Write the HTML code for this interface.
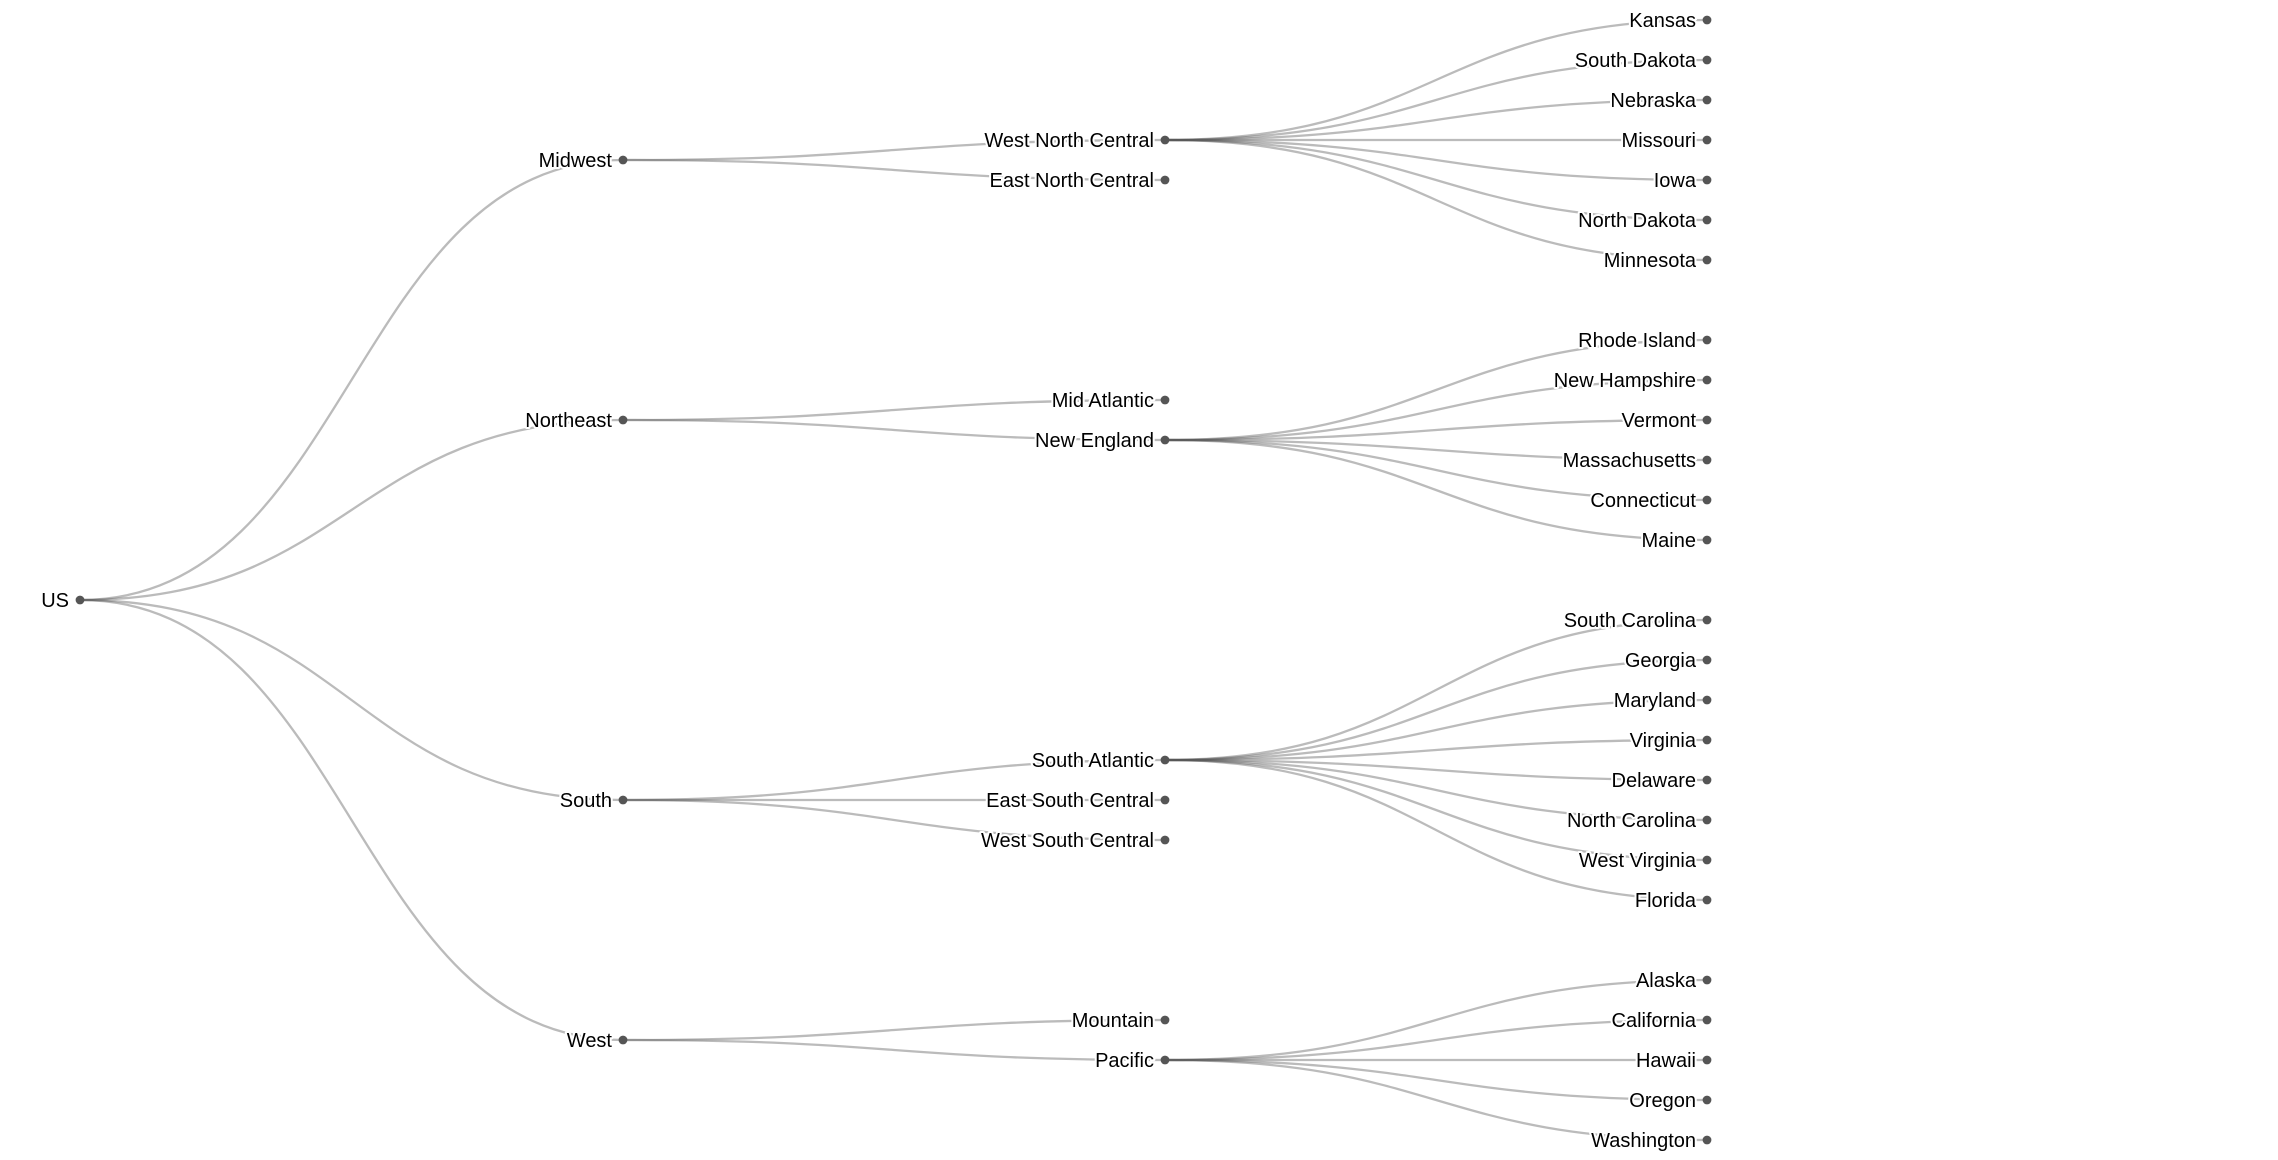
<!DOCTYPE html>
<html><head><meta charset="utf-8"><style>
html,body{margin:0;padding:0;background:#fff;}
svg{display:block}
text{font-family:"Liberation Sans",Arial,sans-serif;font-size:20px;fill:#000;stroke:#fff;stroke-width:4px;paint-order:stroke;stroke-linejoin:round;text-anchor:end}
</style></head><body>
<svg width="2278" height="1160" viewBox="0 0 2278 1160" xmlns="http://www.w3.org/2000/svg">
<g fill="none" stroke="#555" stroke-opacity="0.4" stroke-width="2.3">
<path d="M80,600C351.5,600 351.5,160 623,160"/>
<path d="M80,600C351.5,600 351.5,420 623,420"/>
<path d="M80,600C351.5,600 351.5,800 623,800"/>
<path d="M80,600C351.5,600 351.5,1040 623,1040"/>
<path d="M623,160C894,160 894,140 1165,140"/>
<path d="M623,160C894,160 894,180 1165,180"/>
<path d="M623,420C894,420 894,400 1165,400"/>
<path d="M623,420C894,420 894,440 1165,440"/>
<path d="M623,800C894,800 894,760 1165,760"/>
<path d="M623,800C894,800 894,800 1165,800"/>
<path d="M623,800C894,800 894,840 1165,840"/>
<path d="M623,1040C894,1040 894,1020 1165,1020"/>
<path d="M623,1040C894,1040 894,1060 1165,1060"/>
<path d="M1165,140C1436,140 1436,20 1707,20"/>
<path d="M1165,140C1436,140 1436,60 1707,60"/>
<path d="M1165,140C1436,140 1436,100 1707,100"/>
<path d="M1165,140C1436,140 1436,140 1707,140"/>
<path d="M1165,140C1436,140 1436,180 1707,180"/>
<path d="M1165,140C1436,140 1436,220 1707,220"/>
<path d="M1165,140C1436,140 1436,260 1707,260"/>
<path d="M1165,440C1436,440 1436,340 1707,340"/>
<path d="M1165,440C1436,440 1436,380 1707,380"/>
<path d="M1165,440C1436,440 1436,420 1707,420"/>
<path d="M1165,440C1436,440 1436,460 1707,460"/>
<path d="M1165,440C1436,440 1436,500 1707,500"/>
<path d="M1165,440C1436,440 1436,540 1707,540"/>
<path d="M1165,760C1436,760 1436,620 1707,620"/>
<path d="M1165,760C1436,760 1436,660 1707,660"/>
<path d="M1165,760C1436,760 1436,700 1707,700"/>
<path d="M1165,760C1436,760 1436,740 1707,740"/>
<path d="M1165,760C1436,760 1436,780 1707,780"/>
<path d="M1165,760C1436,760 1436,820 1707,820"/>
<path d="M1165,760C1436,760 1436,860 1707,860"/>
<path d="M1165,760C1436,760 1436,900 1707,900"/>
<path d="M1165,1060C1436,1060 1436,980 1707,980"/>
<path d="M1165,1060C1436,1060 1436,1020 1707,1020"/>
<path d="M1165,1060C1436,1060 1436,1060 1707,1060"/>
<path d="M1165,1060C1436,1060 1436,1100 1707,1100"/>
<path d="M1165,1060C1436,1060 1436,1140 1707,1140"/>
</g>
<g fill="#555">
<circle cx="80" cy="600" r="4.4"/>
<circle cx="623" cy="160" r="4.4"/><circle cx="623" cy="420" r="4.4"/><circle cx="623" cy="800" r="4.4"/><circle cx="623" cy="1040" r="4.4"/>
<circle cx="1165" cy="140" r="4.4"/><circle cx="1165" cy="180" r="4.4"/><circle cx="1165" cy="400" r="4.4"/><circle cx="1165" cy="440" r="4.4"/><circle cx="1165" cy="760" r="4.4"/><circle cx="1165" cy="800" r="4.4"/><circle cx="1165" cy="840" r="4.4"/><circle cx="1165" cy="1020" r="4.4"/><circle cx="1165" cy="1060" r="4.4"/>
<circle cx="1707" cy="20" r="4.4"/><circle cx="1707" cy="60" r="4.4"/><circle cx="1707" cy="100" r="4.4"/><circle cx="1707" cy="140" r="4.4"/><circle cx="1707" cy="180" r="4.4"/><circle cx="1707" cy="220" r="4.4"/><circle cx="1707" cy="260" r="4.4"/>
<circle cx="1707" cy="340" r="4.4"/><circle cx="1707" cy="380" r="4.4"/><circle cx="1707" cy="420" r="4.4"/><circle cx="1707" cy="460" r="4.4"/><circle cx="1707" cy="500" r="4.4"/><circle cx="1707" cy="540" r="4.4"/>
<circle cx="1707" cy="620" r="4.4"/><circle cx="1707" cy="660" r="4.4"/><circle cx="1707" cy="700" r="4.4"/><circle cx="1707" cy="740" r="4.4"/><circle cx="1707" cy="780" r="4.4"/><circle cx="1707" cy="820" r="4.4"/><circle cx="1707" cy="860" r="4.4"/><circle cx="1707" cy="900" r="4.4"/>
<circle cx="1707" cy="980" r="4.4"/><circle cx="1707" cy="1020" r="4.4"/><circle cx="1707" cy="1060" r="4.4"/><circle cx="1707" cy="1100" r="4.4"/><circle cx="1707" cy="1140" r="4.4"/>
</g>
<g>
<text x="69" y="607">US</text>
<text x="612" y="167">Midwest</text>
<text x="612" y="427">Northeast</text>
<text x="612" y="807">South</text>
<text x="612" y="1047">West</text>
<text x="1154" y="147">West North Central</text>
<text x="1154" y="187">East North Central</text>
<text x="1154" y="407">Mid Atlantic</text>
<text x="1154" y="447">New England</text>
<text x="1154" y="767">South Atlantic</text>
<text x="1154" y="807">East South Central</text>
<text x="1154" y="847">West South Central</text>
<text x="1154" y="1027">Mountain</text>
<text x="1154" y="1067">Pacific</text>
<text x="1696" y="27">Kansas</text>
<text x="1696" y="67">South Dakota</text>
<text x="1696" y="107">Nebraska</text>
<text x="1696" y="147">Missouri</text>
<text x="1696" y="187">Iowa</text>
<text x="1696" y="227">North Dakota</text>
<text x="1696" y="267">Minnesota</text>
<text x="1696" y="347">Rhode Island</text>
<text x="1696" y="387">New Hampshire</text>
<text x="1696" y="427">Vermont</text>
<text x="1696" y="467">Massachusetts</text>
<text x="1696" y="507">Connecticut</text>
<text x="1696" y="547">Maine</text>
<text x="1696" y="627">South Carolina</text>
<text x="1696" y="667">Georgia</text>
<text x="1696" y="707">Maryland</text>
<text x="1696" y="747">Virginia</text>
<text x="1696" y="787">Delaware</text>
<text x="1696" y="827">North Carolina</text>
<text x="1696" y="867">West Virginia</text>
<text x="1696" y="907">Florida</text>
<text x="1696" y="987">Alaska</text>
<text x="1696" y="1027">California</text>
<text x="1696" y="1067">Hawaii</text>
<text x="1696" y="1107">Oregon</text>
<text x="1696" y="1147">Washington</text>
</g>
</svg>
</body></html>
